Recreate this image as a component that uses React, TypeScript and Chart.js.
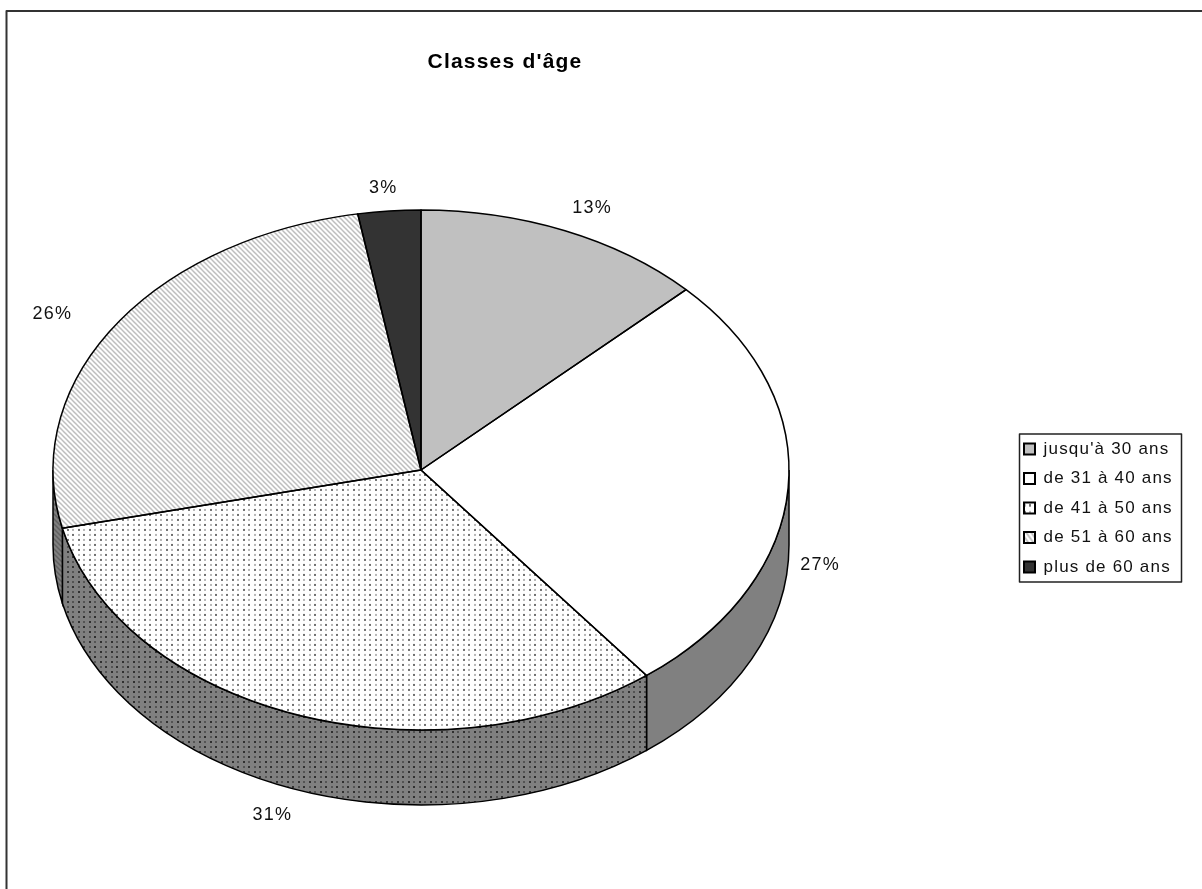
import React, { useEffect, useRef } from "react";
import { Chart, registerables } from "chart.js";

Chart.register(...registerables);

const title = "Classes d'âge";
const categories = ["jusqu'à 30 ans", "de 31 à 40 ans", "de 41 à 50 ans", "de 51 à 60 ans", "plus de 60 ans"];
const shares = [12.8, 26.7, 31.9, 25.85, 2.75];
const shareLabels = ["13%", "27%", "31%", "26%", "3%"];

const FONT = "'Liberation Sans', Arial, sans-serif";
const SQUASH = 260 / 368;
const DEPTH = 75;
const PIE_BOX = { left: 53, top: 102, right: 789, bottom: 838 };
const LEGEND_FRAME = { left: 1019.5, top: 434, right: 1181.5, bottom: 582 };
const LABEL_OFFSETS = [[27, -23], [32, 76], [-25, 100], [-62, -12], [-6, -23]];

function tile(w: number, h: number, paint: (c: CanvasRenderingContext2D) => void) {
  const cv = document.createElement("canvas");
  cv.width = w;
  cv.height = h;
  paint(cv.getContext("2d")!);
  return cv;
}

function dots(bg: string, dark: string, soft: string) {
  return tile(11, 10, (c) => {
    c.fillStyle = bg;
    c.fillRect(0, 0, 11, 10);
    c.fillStyle = dark;
    c.fillRect(1, 1, 2, 2);
    c.fillRect(6, 6, 2, 2);
    c.fillStyle = soft;
    c.fillRect(6, 1, 2, 2);
    c.fillRect(1, 6, 2, 2);
  });
}

function stripes(bg: string, ink: string) {
  return tile(5, 5, (c) => {
    c.fillStyle = bg;
    c.fillRect(0, 0, 5, 5);
    c.strokeStyle = ink;
    c.lineWidth = 1.5;
    for (let i = -5; i <= 5; i += 5) {
      c.beginPath();
      c.moveTo(i - 1, -1);
      c.lineTo(i + 6, 6);
      c.stroke();
    }
  });
}

const threeD = {
  id: "threeD",
  beforeLayout(chart: any) {
    chart.ctx.letterSpacing = "1.2px";
  },
  afterLayout(chart: any) {
    const b = PIE_BOX;
    chart.chartArea = { ...b, width: b.right - b.left, height: b.bottom - b.top };
    const t = chart.titleBlock;
    t.left = 0;
    t.right = 1010;
    t.top = 50;
    t.bottom = 75;
    const l = chart.legend;
    const w = l.width;
    const h = l.height;
    l.left = 1011.5;
    l.right = l.left + w;
    l.top = 428;
    l.bottom = l.top + h;
  },
  beforeDatasetsDraw(chart: any) {
    const ctx = chart.ctx as CanvasRenderingContext2D;
    const arcs = chart.getDatasetMeta(0).data;
    const sideFills = chart.data.datasets[0].sideFill;
    arcs.forEach((arc: any, i: number) => {
      const { x, y, outerRadius, startAngle, endAngle } = arc.getProps(["x", "y", "outerRadius", "startAngle", "endAngle"]);
      const a0 = Math.max(startAngle, 0);
      const a1 = Math.min(endAngle, Math.PI);
      if (a1 <= a0) return;
      const ry = outerRadius * SQUASH;
      ctx.beginPath();
      ctx.ellipse(x, y, outerRadius, ry, 0, a0, a1);
      ctx.ellipse(x, y + DEPTH, outerRadius, ry, 0, a1, a0, true);
      ctx.closePath();
      ctx.fillStyle = sideFills[i];
      ctx.fill();
      ctx.strokeStyle = "#000";
      ctx.lineWidth = 1.5;
      ctx.stroke();
    });
    const p = arcs[0].getProps(["x", "y"]);
    ctx.save();
    ctx.translate(p.x, p.y);
    ctx.scale(1, SQUASH);
    ctx.translate(-p.x, -p.y);
  },
  afterDatasetsDraw(chart: any) {
    const ctx = chart.ctx as CanvasRenderingContext2D;
    ctx.restore();
    const arcs = chart.getDatasetMeta(0).data;
    ctx.strokeStyle = "#000";
    ctx.lineWidth = 1.5;
    ctx.lineJoin = "round";
    arcs.forEach((arc: any, i: number) => {
      const { x, y, outerRadius, startAngle, endAngle } = arc.getProps(["x", "y", "outerRadius", "startAngle", "endAngle"]);
      const ry = outerRadius * SQUASH;
      ctx.beginPath();
      ctx.moveTo(x, y);
      ctx.ellipse(x, y, outerRadius, ry, 0, startAngle, endAngle);
      ctx.closePath();
      ctx.stroke();
      const mid = (startAngle + endAngle) / 2;
      const [dx, dy] = LABEL_OFFSETS[i];
      ctx.save();
      ctx.font = `18px ${FONT}`;
      ctx.fillStyle = "#111";
      ctx.textAlign = "center";
      ctx.textBaseline = "middle";
      ctx.fillText(shareLabels[i], x + outerRadius * Math.cos(mid) + dx, y + ry * Math.sin(mid) + dy);
      ctx.restore();
    });
  },
  afterDraw(chart: any) {
    const ctx = chart.ctx as CanvasRenderingContext2D;
    ctx.save();
    ctx.strokeStyle = "#222";
    ctx.lineWidth = 1.5;
    const f = LEGEND_FRAME;
    ctx.strokeRect(f.left, f.top, f.right - f.left, f.bottom - f.top);
    ctx.strokeStyle = "#333";
    ctx.lineWidth = 2;
    ctx.beginPath();
    ctx.moveTo(6.5, chart.height);
    ctx.lineTo(6.5, 11);
    ctx.lineTo(chart.width, 11);
    ctx.stroke();
    ctx.restore();
  },
};

export default function App() {
  const ref = useRef<HTMLCanvasElement>(null);
  useEffect(() => {
    const canvas = ref.current!;
    const probe = canvas.getContext("2d")!;
    const pattern = (cv: HTMLCanvasElement, unsquash: boolean) => {
      const p = probe.createPattern(cv, "repeat")!;
      if (unsquash) p.setTransform(new DOMMatrix().scale(1, 1 / SQUASH));
      return p;
    };
    const fills = [
      "#c0c0c0",
      "#ffffff",
      pattern(dots("#ffffff", "#707070", "#b8b8b8"), true),
      pattern(stripes("#ffffff", "#bcbcbc"), true),
      "#333333",
    ];
    const sideFills = [
      "#808080",
      "#808080",
      pattern(dots("#808080", "#303030", "#555555"), false),
      pattern(stripes("#808080", "#606060"), false),
      "#333333",
    ];
    const chart: any = new Chart(canvas, {
      type: "pie",
      data: {
        labels: categories,
        datasets: [{ data: shares, backgroundColor: fills as any, borderWidth: 0, sideFill: sideFills } as any],
      },
      options: {
        animation: false,
        responsive: false,
        devicePixelRatio: 1,
        plugins: {
          tooltip: { enabled: false },
          title: {
            display: true,
            text: title,
            color: "#000",
            padding: 0,
            font: { family: FONT, size: 21, weight: "bold" },
          },
          legend: {
            position: "right",
            align: "start",
            labels: {
              boxWidth: 11,
              boxHeight: 11,
              padding: 12.5,
              color: "#111",
              font: { family: FONT, size: 17 },
              generateLabels(c: any) {
                const base = (Chart as any).overrides.doughnut.plugins.legend.labels.generateLabels(c);
                return base.map((it: any) => ({ ...it, lineWidth: 2, strokeStyle: "#000" }));
              },
            },
          },
        },
      },
      plugins: [threeD],
    } as any);
    return () => chart.destroy();
  }, []);
  return (
    <canvas
      ref={ref}
      width={1202}
      height={889}
      style={{ position: "absolute", left: 0, top: 0, display: "block" }}
    />
  );
}
